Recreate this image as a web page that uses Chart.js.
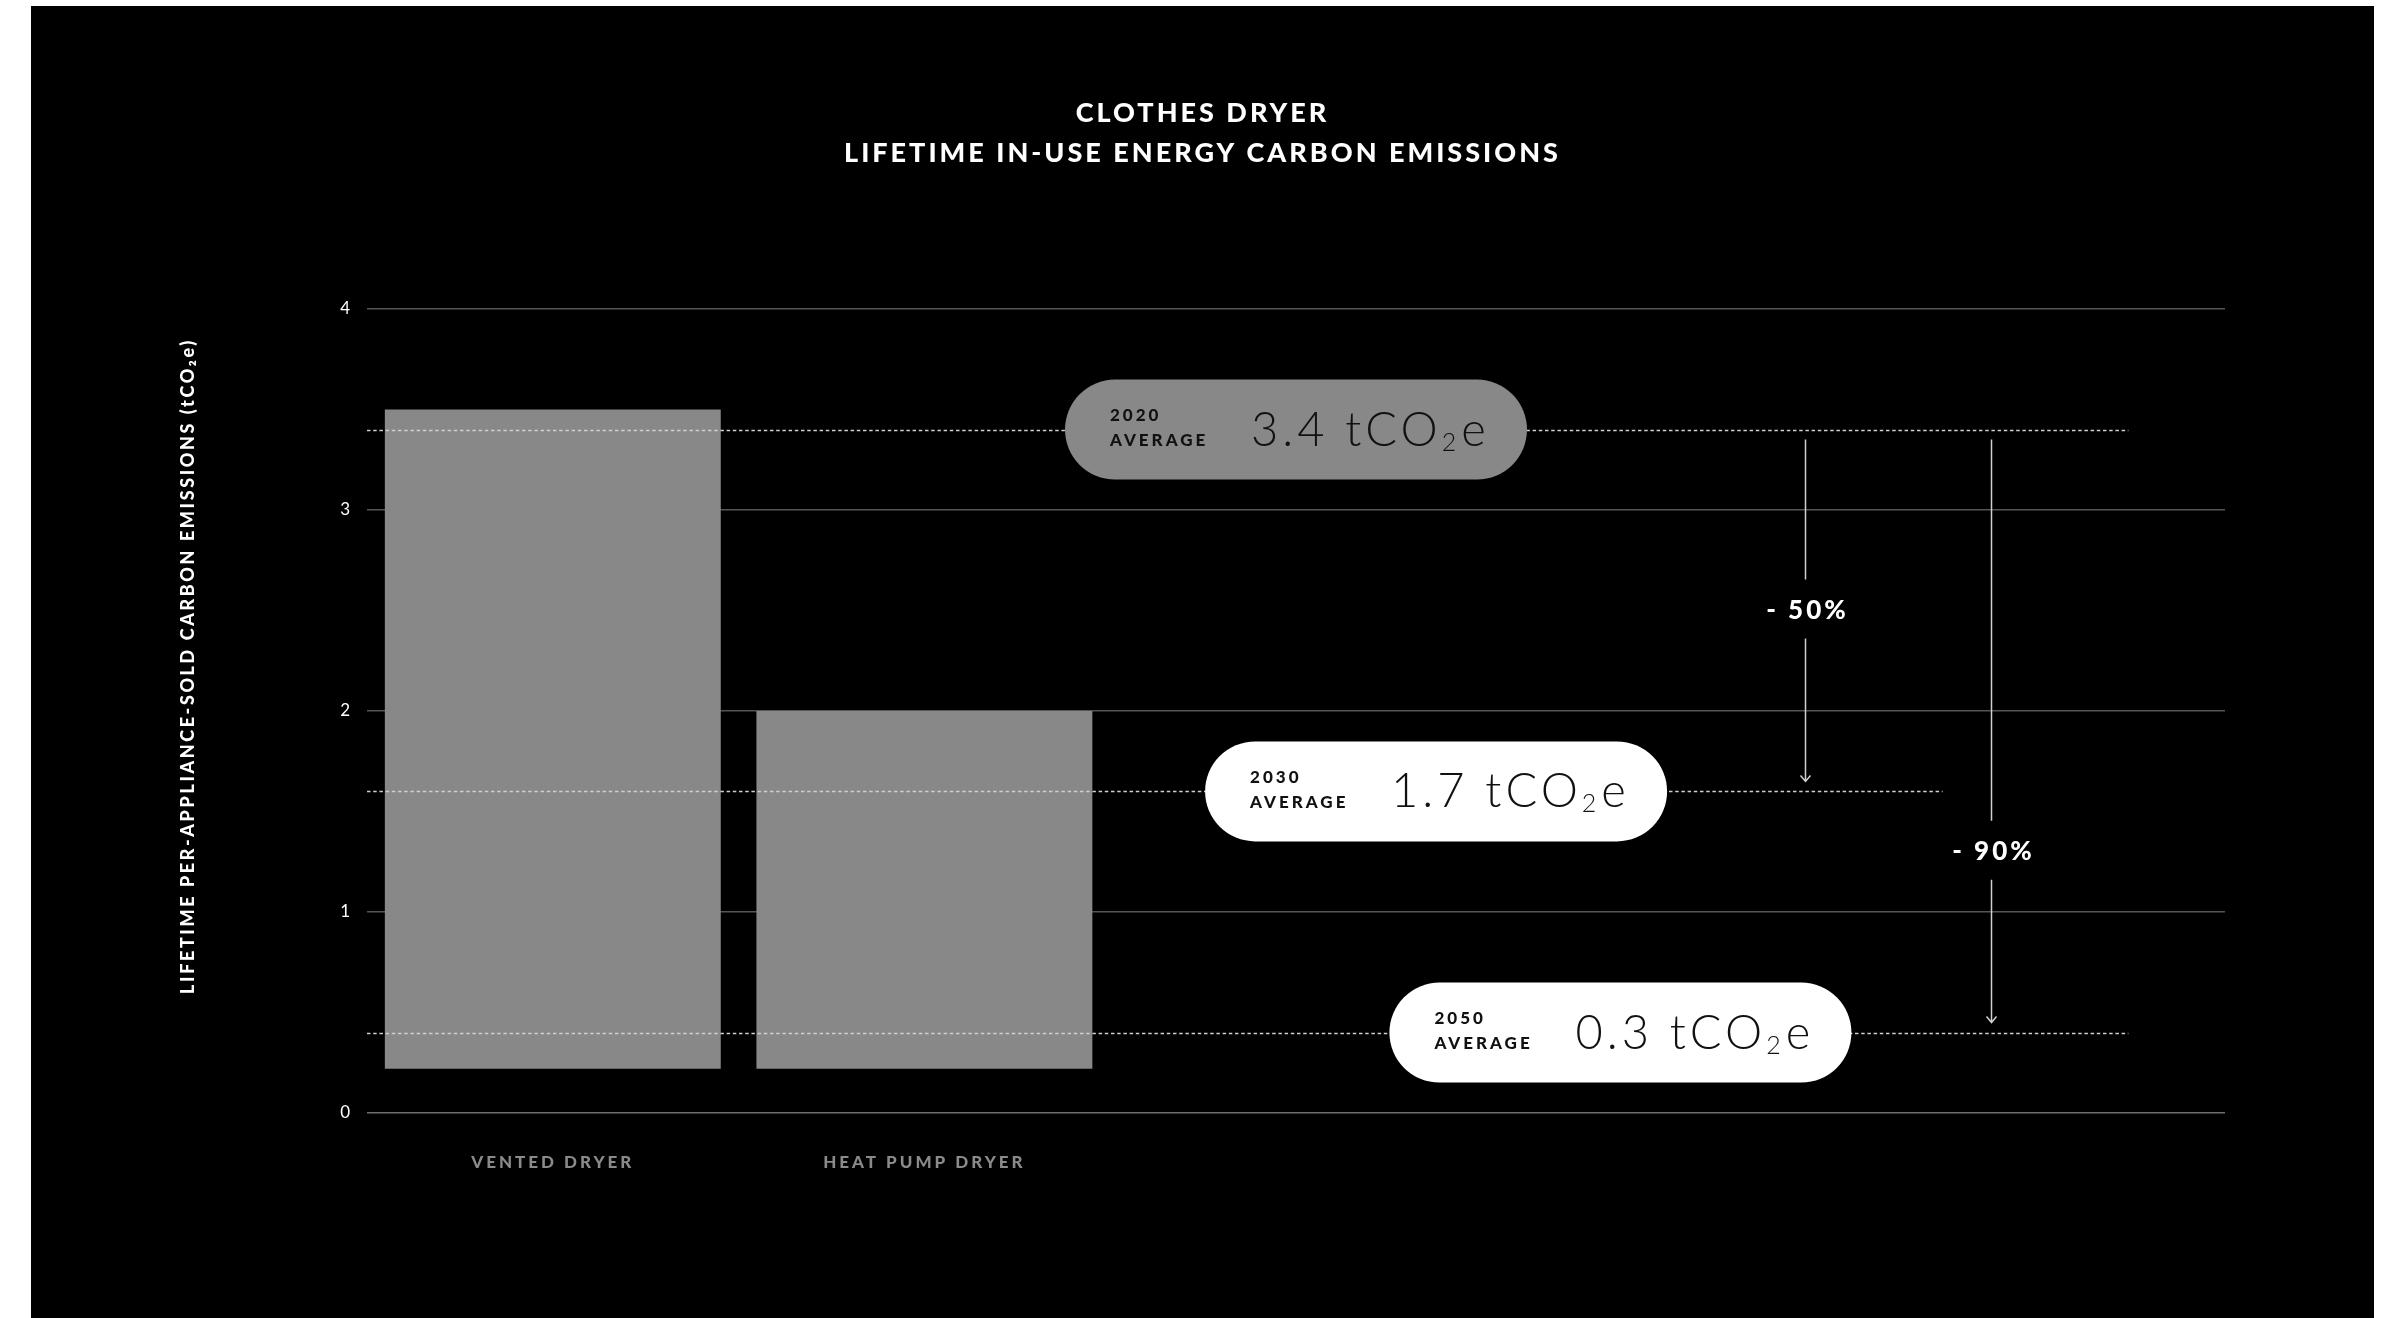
<!DOCTYPE html>
<html>
<head>
<meta charset="utf-8">
<script src="https://cdn.jsdelivr.net/npm/chart.js@4.4.1/dist/chart.umd.min.js"></script>
<style>
  html, body { margin: 0; padding: 0; background: #fff; }
  #frame { position: absolute; left: 31px; top: 6px; width: 2343px; height: 1312px; background: #000; }
  #chart { position: absolute; left: 0; top: 0; }
</style>
</head>
<body>
<div id="frame"></div>
<canvas id="chart" width="2401" height="1318"></canvas>
<script>
// chart data
const categories = ["VENTED DRYER", "HEAT PUMP DRYER", "", "", ""];
const barBase = [0.22, 0.22];
const barTop = [3.5, 2.0];
const yTicks = [0, 1, 2, 3, 4];

// average markers (dashed lines + pills)
const avgYears = ["2020", "2030", "2050"];
const avgLevels = [3.4, 1.6, 0.4];
const avgLabels = ["3.4", "1.7", "0.3"];

// reduction arrows
const cutLabels = ["- 50%", "- 90%"];
const cutFrom = [3.4, 3.4];
const cutTo = [1.6, 0.4];
const cutLabelAt = [2.5, 1.3];

const FONT = 'Lato, "Open Sans", sans-serif';
Chart.defaults.font.family = FONT;

const overlay = {
  id: "overlay",
  beforeDraw(chart) {
    chart.ctx.letterSpacing = "3px";
  },
  afterDatasetsDraw(chart) {
    const { ctx, chartArea, scales: { x, y } } = chart;
    const pillX = [2.0, 2.377, 2.873];
    const lineEnd = [4.24, 3.74, 4.24];
    const pillFill = ["#888888", "#ffffff", "#ffffff"];
    const cutX = [3.37, 3.87];

    ctx.save();

    // dashed average lines
    ctx.letterSpacing = "0px";
    ctx.setLineDash([3.5, 2.7]);
    ctx.strokeStyle = "#cfcfcf";
    ctx.lineWidth = 1.5;
    avgLevels.forEach((v, i) => {
      const py = Math.round(y.getPixelForValue(v)) + 0.5;
      ctx.beginPath();
      ctx.moveTo(chartArea.left, py);
      ctx.lineTo(x.getPixelForValue(lineEnd[i]), py);
      ctx.stroke();
    });
    ctx.setLineDash([]);

    // pills
    avgLevels.forEach((v, i) => {
      const cy = y.getPixelForValue(v);
      const w = 462, h = 100;
      const left = x.getPixelForValue(pillX[i]) - w / 2;
      ctx.fillStyle = pillFill[i];
      ctx.beginPath();
      ctx.roundRect(left, cy - h / 2, w, h, h / 2);
      ctx.fill();

      ctx.fillStyle = "#111";
      ctx.textAlign = "left";
      ctx.textBaseline = "middle";
      ctx.letterSpacing = "3px";
      ctx.font = "900 17px " + FONT;
      ctx.fillText(avgYears[i], left + 45, cy - 14);
      ctx.fillText("AVERAGE", left + 45, cy + 11);

      ctx.textBaseline = "alphabetic";
      ctx.letterSpacing = "4px";
      ctx.font = "300 47px " + FONT;
      let tx = left + 186;
      const main = avgLabels[i] + " tCO";
      ctx.fillText(main, tx, cy + 16);
      tx += ctx.measureText(main).width;
      ctx.font = "300 25px " + FONT;
      ctx.fillText("2", tx, cy + 21);
      tx += ctx.measureText("2").width + 1;
      ctx.font = "300 47px " + FONT;
      ctx.fillText("e", tx, cy + 16);
    });

    // reduction arrows
    ctx.strokeStyle = "#d0d0d0";
    ctx.lineWidth = 1.5;
    cutLabels.forEach((lab, i) => {
      const ax = Math.round(x.getPixelForValue(cutX[i])) + 0.5;
      const top = y.getPixelForValue(cutFrom[i]) + 10;
      const tip = y.getPixelForValue(cutTo[i]) - 10;
      const ly = y.getPixelForValue(cutLabelAt[i]);
      ctx.beginPath();
      ctx.moveTo(ax, top);
      ctx.lineTo(ax, ly - 31);
      ctx.moveTo(ax, ly + 28);
      ctx.lineTo(ax, tip);
      ctx.moveTo(ax - 5, tip - 6);
      ctx.lineTo(ax, tip);
      ctx.lineTo(ax + 5, tip - 6);
      ctx.stroke();

      ctx.fillStyle = "#fff";
      ctx.font = "900 26px " + FONT;
      ctx.letterSpacing = "3px";
      ctx.textAlign = "center";
      ctx.textBaseline = "middle";
      ctx.fillText(lab, ax + 2, ly);
    });

    // titles
    const cx = chart.width / 2;
    ctx.fillStyle = "#fff";
    ctx.font = "900 27px " + FONT;
    ctx.letterSpacing = "3px";
    ctx.fillText("CLOTHES DRYER", cx + 2, 113);
    ctx.fillText("LIFETIME IN-USE ENERGY CARBON EMISSIONS", cx + 2, 153);

    // y axis title
    ctx.translate(188, (chartArea.top + chartArea.bottom) / 2 - 45);
    ctx.rotate(-Math.PI / 2);
    ctx.font = "900 18px " + FONT;
    ctx.letterSpacing = "2.6px";
    ctx.fillText("LIFETIME PER-APPLIANCE-SOLD CARBON EMISSIONS (tCO\u2082e)", 0, 0);

    ctx.restore();
  }
};

new Chart(document.getElementById("chart"), {
  type: "bar",
  data: {
    labels: categories,
    datasets: [{
      data: barTop.map((t, i) => [barBase[i], t]),
      backgroundColor: "#888888",
      borderWidth: 0,
      barPercentage: 0.904,
      categoryPercentage: 1.0,
    }]
  },
  options: {
    responsive: false,
    animation: false,
    layout: { padding: { top: 309, right: 176, bottom: 0, left: 0 } },
    plugins: {
      legend: { display: false },
      tooltip: { enabled: false },
    },
    scales: {
      x: {
        grid: { display: false },
        border: { display: false },
        ticks: {
          color: "#8a8a8a",
          font: { size: 17, weight: "900" },
          padding: 31,
          maxRotation: 0,
          autoSkip: false,
        },
        afterFit(scale) { scale.height = 205; }
      },
      y: {
        min: 0,
        max: 4,
        afterBuildTicks(scale) { scale.ticks = yTicks.map(v => ({ value: v })); },
        ticks: { color: "#fff", font: { size: 17 }, padding: 14 },
        grid: {
          drawTicks: false,
          lineWidth: 1.5,
          color: ctx => ctx.tick && ctx.tick.value === 0 ? "#6f6f6f" : "#555555",
        },
        border: { display: false },
        afterFit(scale) { scale.width = 367; }
      }
    }
  },
  plugins: [overlay]
});
</script>
</body>
</html>
